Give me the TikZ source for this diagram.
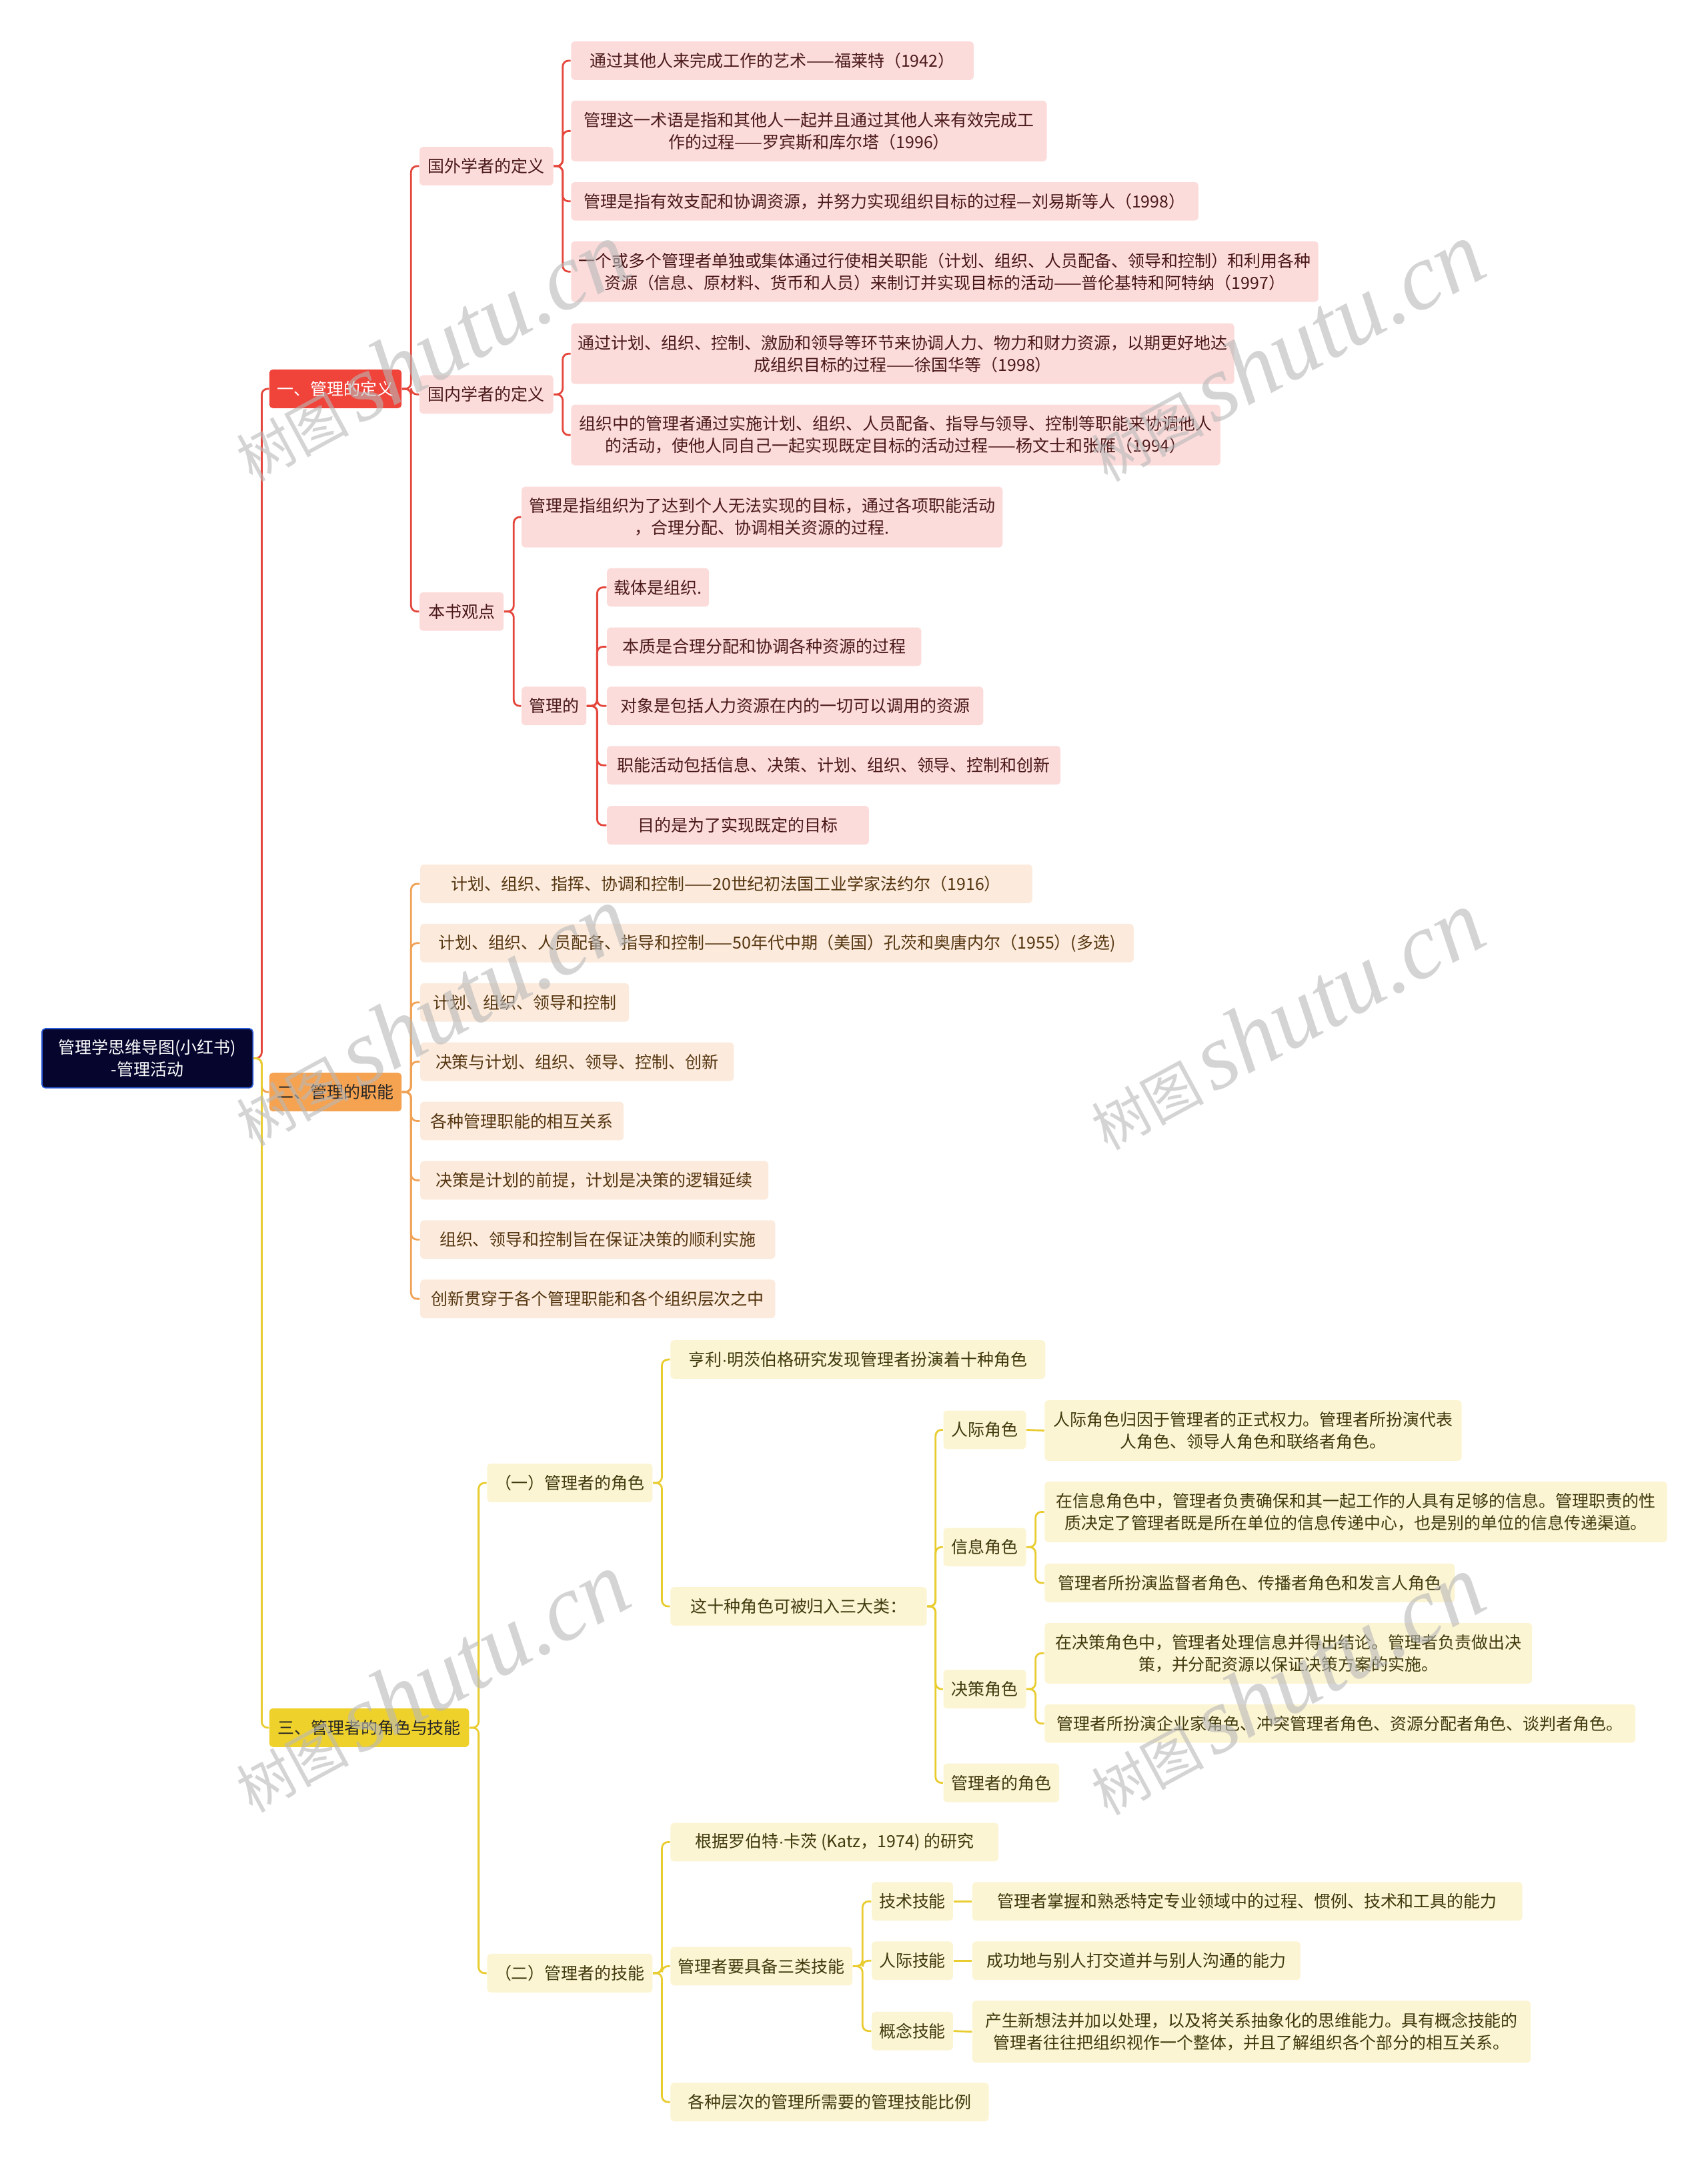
\documentclass[tikz,border=0pt]{standalone}
\usepackage{fontspec}
\setmainfont{Noto Sans CJK SC}
\newfontfamily\wmlatin{Liberation Serif}
\newfontfamily\latindot{Liberation Sans}
\usepackage{xcolor}
\usepackage{tikz}
\definecolor{RootNavy}{HTML}{05052E}
\definecolor{RootEdge}{HTML}{2A5BD7}
\definecolor{RedHead}{HTML}{F0433A}
\definecolor{RedLine}{HTML}{E4463C}
\definecolor{RedLeaf}{HTML}{FCDCDB}
\definecolor{RedText}{HTML}{4A1818}
\definecolor{OrangeHead}{HTML}{F5A251}
\definecolor{OrangeLine}{HTML}{F0A256}
\definecolor{OrangeLeaf}{HTML}{FCEBDC}
\definecolor{OrangeText}{HTML}{553510}
\definecolor{YellowHead}{HTML}{EFD12C}
\definecolor{YellowLine}{HTML}{E8CC30}
\definecolor{YellowLeaf}{HTML}{FCF5D4}
\definecolor{YellowText}{HTML}{3F390C}
\definecolor{WaterGray}{HTML}{B8B8B8}
\newcommand{\mdot}{{\latindot ·}}

\begin{document}
\begin{tikzpicture}[
	x=0.02066cm, y=-0.02066cm,
	base/.style={rounded corners=1.5pt, align=center, anchor=west, inner xsep=2pt, inner ysep=3pt,
		minimum height=0.578cm, font=\fontsize{7.1}{9.4}\selectfont},
	bw/.style={minimum width=#1*0.02066cm},
	bh/.style={minimum height=#1*0.02066cm},
	rootbox/.style={base, fill=RootNavy, draw=RootEdge, line width=0.5pt, text=white},
	redhead/.style={base, fill=RedHead, text=white},
	redleaf/.style={base, fill=RedLeaf, text=RedText},
	orangehead/.style={base, fill=OrangeHead, text=black!85},
	orangeleaf/.style={base, fill=OrangeLeaf, text=OrangeText},
	yellowhead/.style={base, fill=YellowHead, text=black!85},
	yellowleaf/.style={base, fill=YellowLeaf, text=YellowText},
	redlink/.style={draw=RedLine, line width=0.8pt, rounded corners=2.5pt},
	orangelink/.style={draw=OrangeLine, line width=0.8pt, rounded corners=2.5pt},
	yellowlink/.style={draw=YellowLine, line width=0.8pt, rounded corners=2.5pt},
	watermark/.style={text=WaterGray, opacity=0.6, rotate=28.5, inner sep=0pt}
]
\fill[white] (0,0) rectangle (1239,1568);
\useasboundingbox (0,0) rectangle (1239,1568);

% root and main branches
\node[rootbox, bw=153, bh=43] (root) at (30,767.5) {管理学思维导图(小红书)\\-管理活动};
\node[redhead, bw=96] (def) at (195,282) {一、管理的定义};
\node[orangehead, bw=96] (func) at (195,792) {二、管理的职能};
\node[yellowhead, bw=145] (role) at (195,1253) {三、管理者的角色与技能};

% branch one
\node[redleaf, bw=97] (abroad) at (304,120.5) {国外学者的定义};
\node[redleaf, bw=97] (home) at (304,286) {国内学者的定义};
\node[redleaf, bw=61] (book) at (304,443.5) {本书观点};

\node[redleaf, bw=292] (ab1) at (414,44) {通过其他人来完成工作的艺术——福莱特（1942）};
\node[redleaf, bw=345, bh=44] (ab2) at (414,95) {管理这一术语是指和其他人一起并且通过其他人来有效完成工\\作的过程——罗宾斯和库尔塔（1996）};
\node[redleaf, bw=455] (ab3) at (414,146) {管理是指有效支配和协调资源，并努力实现组织目标的过程—刘易斯等人（1998）};
\node[redleaf, bw=542, bh=44] (ab4) at (414,197) {一个或多个管理者单独或集体通过行使相关职能（计划、组织、人员配备、领导和控制）和利用各种\\资源（信息、原材料、货币和人员）来制订并实现目标的活动——普伦基特和阿特纳（1997）};
\node[redleaf, bw=481, bh=44] (hm1) at (414,256.5) {通过计划、组织、控制、激励和领导等环节来协调人力、物力和财力资源，以期更好地达\\成组织目标的过程——徐国华等（1998）};
\node[redleaf, bw=471, bh=44] (hm2) at (414,315.5) {组织中的管理者通过实施计划、组织、人员配备、指导与领导、控制等职能来协调他人\\的活动，使他人同自己一起实现既定目标的活动过程——杨文士和张雁（1994）};
\node[redleaf, bw=349, bh=44] (bk1) at (378,375) {管理是指组织为了达到个人无法实现的目标，通过各项职能活动\\，合理分配、协调相关资源的过程.};
\node[redleaf, bw=47] (bk2) at (378,512) {管理的};
\node[redleaf, bw=74] (mg1) at (440,426) {载体是组织.};
\node[redleaf, bw=228] (mg2) at (440,469) {本质是合理分配和协调各种资源的过程};
\node[redleaf, bw=273] (mg3) at (440,512) {对象是包括人力资源在内的一切可以调用的资源};
\node[redleaf, bw=329] (mg4) at (440,555) {职能活动包括信息、决策、计划、组织、领导、控制和创新};
\node[redleaf, bw=190] (mg5) at (440,598.5) {目的是为了实现既定的目标};

% branch two
\node[orangeleaf, bw=444] (fn1) at (304.5,641) {计划、组织、指挥、协调和控制——20世纪初法国工业学家法约尔（1916）};
\node[orangeleaf, bw=517.5] (fn2) at (304.5,684) {计划、组织、人员配备、指导和控制——50年代中期（美国）孔茨和奥唐内尔（1955）(多选)};
\node[orangeleaf, bw=151.5] (fn3) at (304.5,727) {计划、组织、领导和控制};
\node[orangeleaf, bw=227.5] (fn4) at (304.5,770) {决策与计划、组织、领导、控制、创新};
\node[orangeleaf, bw=147.5] (fn5) at (304.5,813) {各种管理职能的相互关系};
\node[orangeleaf, bw=252.5] (fn6) at (304.5,856) {决策是计划的前提，计划是决策的逻辑延续};
\node[orangeleaf, bw=257.5] (fn7) at (304.5,899) {组织、领导和控制旨在保证决策的顺利实施};
\node[orangeleaf, bw=257.5] (fn8) at (304.5,942) {创新贯穿于各个管理职能和各个组织层次之中};

% branch three
\node[yellowleaf, bw=120] (roles) at (353,1075.5) {（一）管理者的角色};
\node[yellowleaf, bw=120] (skills) at (353,1431) {（二）管理者的技能};

\node[yellowleaf, bw=272] (mintz) at (486,986) {亨利\mdot 明茨伯格研究发现管理者扮演着十种角色};
\node[yellowleaf, bw=186] (three) at (486,1165) {这十种角色可被归入三大类：};
\node[yellowleaf, bw=60] (inter) at (684,1037) {人际角色};
\node[yellowleaf, bw=60] (info) at (684,1122) {信息角色};
\node[yellowleaf, bw=60] (decis) at (684,1225) {决策角色};
\node[yellowleaf, bw=84] (mrole) at (684,1293) {管理者的角色};
\node[yellowleaf, bw=302.5, bh=44] (inter1) at (757.5,1037.5) {人际角色归因于管理者的正式权力。管理者所扮演代表\\人角色、领导人角色和联络者角色。};
\node[yellowleaf, bw=451.5, bh=44] (info1) at (757.5,1096.5) {在信息角色中，管理者负责确保和其一起工作的人具有足够的信息。管理职责的性\\质决定了管理者既是所在单位的信息传递中心，也是别的单位的信息传递渠道。};
\node[yellowleaf, bw=297.5] (info2) at (757.5,1148) {管理者所扮演监督者角色、传播者角色和发言人角色};
\node[yellowleaf, bw=353.5, bh=44] (decis1) at (757.5,1199) {在决策角色中，管理者处理信息并得出结论。管理者负责做出决\\策，并分配资源以保证决策方案的实施。};
\node[yellowleaf, bw=428.5] (decis2) at (757.5,1250) {管理者所扮演企业家角色、冲突管理者角色、资源分配者角色、谈判者角色。};

\node[yellowleaf, bw=238] (katz) at (486,1336) {根据罗伯特\mdot 卡茨 (Katz，1974) 的研究};
\node[yellowleaf, bw=132] (kinds) at (486,1426) {管理者要具备三类技能};
\node[yellowleaf, bw=231] (ratio) at (486,1524.5) {各种层次的管理所需要的管理技能比例};
\node[yellowleaf, bw=59] (tech) at (632,1379) {技术技能};
\node[yellowleaf, bw=59] (human) at (632,1422) {人际技能};
\node[yellowleaf, bw=59] (conc) at (632,1473) {概念技能};
\node[yellowleaf, bw=399] (tech1) at (705,1379) {管理者掌握和熟悉特定专业领域中的过程、惯例、技术和工具的能力};
\node[yellowleaf, bw=238] (human1) at (705,1422) {成功地与别人打交道并与别人沟通的能力};
\node[yellowleaf, bw=405, bh=45] (conc1) at (705,1473.5) {产生新想法并加以处理，以及将关系抽象化的思维能力。具有概念技能的\\管理者往往把组织视作一个整体，并且了解组织各个部分的相互关系。};

% connectors
\draw[redlink] (root.east) -- ++(6,0) |- (def.west);
\draw[orangelink] (root.east) -- ++(6,0) |- (func.west);
\draw[yellowlink] (root.east) -- ++(6,0) |- (role.west);

\foreach \c in {abroad,home,book} \draw[redlink] (def.east) -- ++(6.5,0) |- (\c.west);
\foreach \c in {ab1,ab2,ab3,ab4} \draw[redlink] (abroad.east) -- ++(6.5,0) |- (\c.west);
\foreach \c in {hm1,hm2} \draw[redlink] (home.east) -- ++(6.5,0) |- (\c.west);
\foreach \c in {bk1,bk2} \draw[redlink] (book.east) -- ++(7,0) |- (\c.west);
\foreach \c in {mg1,mg2,mg3,mg4,mg5} \draw[redlink] (bk2.east) -- ++(7.5,0) |- (\c.west);

\foreach \c in {fn1,fn2,fn3,fn4,fn5,fn6,fn7,fn8} \draw[orangelink] (func.east) -- ++(6.5,0) |- (\c.west);

\foreach \c in {roles,skills} \draw[yellowlink] (role.east) -- ++(6.5,0) |- (\c.west);
\foreach \c in {mintz,three} \draw[yellowlink] (roles.east) -- ++(6.5,0) |- (\c.west);
\foreach \c in {inter,info,decis,mrole} \draw[yellowlink] (three.east) -- ++(6,0) |- (\c.west);
\draw[yellowlink] (inter.east) -- (inter1.west);
\foreach \c in {info1,info2} \draw[yellowlink] (info.east) -- ++(6.5,0) |- (\c.west);
\foreach \c in {decis1,decis2} \draw[yellowlink] (decis.east) -- ++(6.5,0) |- (\c.west);
\foreach \c in {katz,kinds,ratio} \draw[yellowlink] (skills.east) -- ++(6.5,0) |- (\c.west);
\foreach \c in {tech,human,conc} \draw[yellowlink] (kinds.east) -- ++(7,0) |- (\c.west);
\draw[yellowlink] (tech.east) -- (tech1.west);
\draw[yellowlink] (human.east) -- (human1.west);
\draw[yellowlink] (conc.east) -- (conc1.west);

% watermarks
\foreach \wx/\wy [count=\i] in {312/255,932/255,312/737,932/740,312/1220,932/1222}
	\node[watermark] (wm\i) at (\wx,\wy) {\fontsize{24}{24}\selectfont 树图\,{\wmlatin\fontsize{40}{40}\selectfont\itshape shutu.cn}};
\end{tikzpicture}
\end{document}
